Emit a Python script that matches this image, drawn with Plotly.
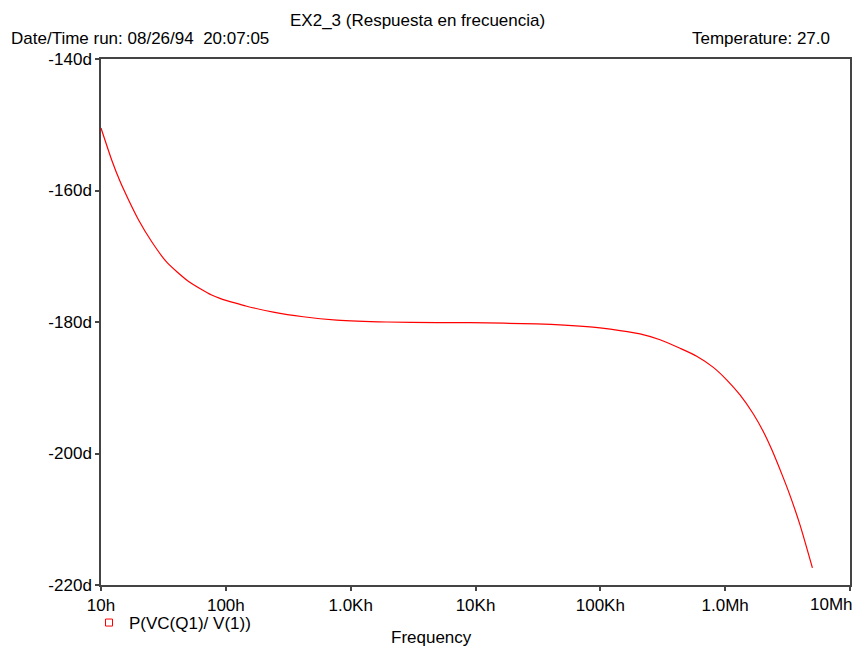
import plotly.graph_objects as go

# Frequency (Hz) and phase (degrees)
freq = [10, 12.2, 14.2, 16.6, 19.9, 25.5, 33.6, 50, 77, 89.7, 118, 147, 240, 417, 773,
        1945, 4890, 9040, 30900, 77800, 99400, 143900, 208000, 300900, 435000, 592000,
        804000, 1028000, 1315000, 1682000, 2024000, 2361000, 2839000, 3310000, 3981000, 5000000]
phase = [-150.5, -155.4, -158.6, -161.4, -164.4, -167.8, -170.9, -173.8, -175.9, -176.4, -177.1,
         -177.6, -178.5, -179.2, -179.7, -180.0, -180.1, -180.1, -180.3, -180.7, -180.9,
         -181.3, -181.8, -182.7, -184.0, -185.2, -186.9, -188.8, -191.1, -194.0, -196.7,
         -199.4, -203.1, -206.4, -210.9, -217.4]

x_tickvals = [10, 100, 1e3, 1e4, 1e5, 1e6, 1e7]
x_ticktext = ["10h", "100h", "1.0Kh", "10Kh", "100Kh", "1.0Mh", "10Mh"]
y_tickvals = [-140, -160, -180, -200, -220]
y_ticktext = ["-140d", "-160d", "-180d", "-200d", "-220d"]

series_name = "P(VC(Q1)/ V(1))"
title_text = "EX2_3 (Respuesta en frecuencia)"
date_text = "Date/Time run: 08/26/94  20:07:05"
temp_text = "Temperature: 27.0"
x_title = "Frequency"

FONT = "Liberation Sans, Arial, sans-serif"
FS = 17
OFF = 0  # body margin removed by post_script below

fig = go.Figure()
fig.add_trace(go.Scatter(x=freq, y=phase, mode="lines",
                         line=dict(color="#ff0000", width=1.2, shape="spline", smoothing=0.6),
                         showlegend=False, hoverinfo="x+y"))
fig.add_trace(go.Scatter(x=[None], y=[None], mode="markers", name=series_name,
                         marker=dict(symbol="square-open", color="#ff0000", size=7, line=dict(width=1)),
                         showlegend=True))

# target page-pixel geometry of the plot area
L, R, T, B = 101, 850, 59, 585
PW, PH = R - L, B - T

fig.update_layout(
    width=856 - OFF, height=648 - OFF,
    margin=dict(l=L - OFF, r=856 - R, t=T - OFF, b=648 - B, autoexpand=False),
    paper_bgcolor="white", plot_bgcolor="white",
    font=dict(family=FONT, size=FS, color="black"),
    legend=dict(x=(89 - L) / PW, y=-(605 - B) / PH, xanchor="left", yanchor="top",
                bgcolor="rgba(0,0,0,0)", font=dict(size=FS), itemwidth=30, tracegroupgap=0),
)
axis_style = dict(showgrid=False, zeroline=False, showline=True, linecolor="#444", linewidth=1.5,
                  mirror=True, ticks="outside", ticklen=4, tickcolor="#444", tickwidth=1.5,
                  tickfont=dict(size=FS))
# last tick label would overflow the page edge; it is drawn as an annotation instead
fig.update_xaxes(type="log", range=[1, 7], tickvals=x_tickvals,
                 ticktext=x_ticktext[:-1] + [""], **axis_style)
fig.update_yaxes(range=[-220, -140], tickvals=y_tickvals, ticktext=y_ticktext, **axis_style)

def px_x(p):
    return (p - L) / PW

def px_y(p):
    return 1 - (p - T) / PH

fig.add_annotation(text=x_ticktext[-1], xref="paper", yref="paper", x=px_x(854), y=px_y(604),
                   xanchor="right", yanchor="middle", showarrow=False, font=dict(size=FS),
                   borderpad=0)
fig.add_annotation(text=title_text, xref="paper", yref="paper", x=px_x(417), y=px_y(20),
                   xanchor="center", yanchor="middle", showarrow=False, font=dict(size=FS))
fig.add_annotation(text=date_text, xref="paper", yref="paper", x=px_x(9), y=px_y(38),
                   xanchor="left", yanchor="middle", showarrow=False, font=dict(size=FS))
fig.add_annotation(text=temp_text, xref="paper", yref="paper", x=px_x(832), y=px_y(38),
                   xanchor="right", yanchor="middle", showarrow=False, font=dict(size=FS))
fig.add_annotation(text=x_title, xref="paper", yref="paper", x=px_x(431), y=px_y(637),
                   xanchor="center", yanchor="middle", showarrow=False, font=dict(size=FS))

fig.write_html("out.html", config={"displayModeBar": False},
               post_script="document.body.style.margin='0';document.body.style.overflow='hidden';")
